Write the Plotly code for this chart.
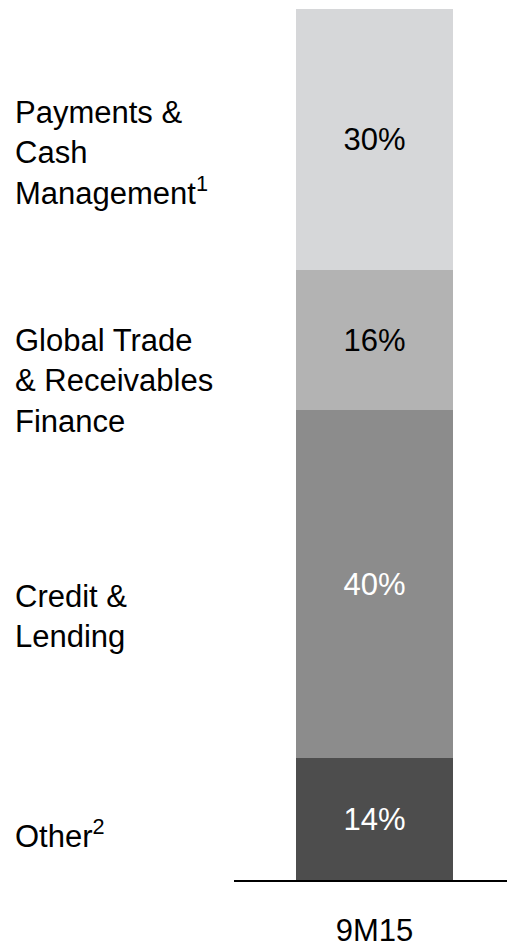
import plotly.graph_objects as go

period = ["9M15"]
segments = ["Other<sup>2</sup>", "Credit &<br>Lending", "Global Trade<br>& Receivables<br>Finance",
            "Payments &<br>Cash<br>Management<sup>1</sup>"]
shares = [14, 40, 16, 30]
share_labels = ["14%", "40%", "16%", "30%"]

colors = ["#4d4d4d", "#8c8c8c", "#b3b3b3", "#d6d7d9"]
text_colors = ["#ffffff", "#ffffff", "#000000", "#000000"]
label_y = [5.3, 30.2, 57.3, 83.5]  # data-unit positions of the left-hand labels

FONT = "Liberation Sans, Arial, sans-serif"
W, H = 507, 943
ml, mr, mt, mb = 234, 0, 9, 63

fig = go.Figure()
for name, val, lab, col, tcol in zip(segments, shares, share_labels, colors, text_colors):
    fig.add_trace(go.Bar(
        x=period, y=[val], name=name, width=0.575,
        marker=dict(color=col, line=dict(width=0)),
        text=[lab], textposition="inside", insidetextanchor="middle",
        textfont=dict(family=FONT, size=31, color=tcol),
        showlegend=False, hoverinfo="skip",
    ))

for name, yv in zip(segments, label_y):
    fig.add_annotation(
        text=name, xref="paper", yref="y", x=(13 - ml) / (W - ml - mr), y=yv,
        xanchor="left", yanchor="middle", align="left", showarrow=False,
        font=dict(family=FONT, size=31, color="#000000"),
    )

fig.update_layout(
    width=W, height=H, barmode="stack",
    margin=dict(l=ml, r=mr, t=mt, b=mb, pad=0, autoexpand=False),
    paper_bgcolor="white", plot_bgcolor="white",
    bargap=0,
    xaxis=dict(type="category", range=[-0.5147, 0.4853], showline=True, linecolor="black",
               linewidth=2, showgrid=False, zeroline=False, ticks="", automargin=False,
               ticklabelstandoff=22,
               tickfont=dict(family=FONT, size=31, color="#000000")),
    yaxis=dict(range=[0, 100], visible=False, showgrid=False, zeroline=False, automargin=False),
)

fig.write_html("out.html", config={"displayModeBar": False},
               post_script="document.body.style.margin='0';document.body.style.overflow='hidden';")
